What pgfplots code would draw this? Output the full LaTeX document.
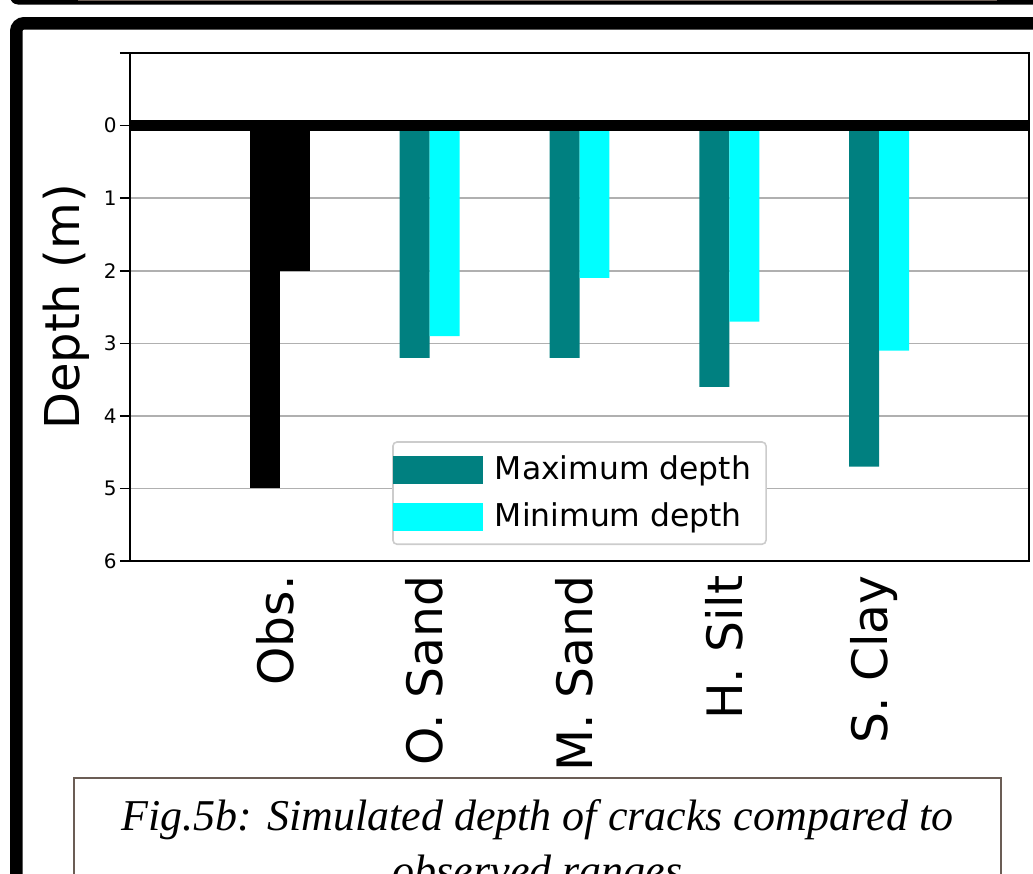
\documentclass[border=0pt]{standalone}
\usepackage{fontspec}
\usepackage{pgfplots}
\pgfplotsset{compat=1.18}
\newfontfamily\dejavu{DejaVu Sans}
\newfontfamily\capserif{Liberation Serif}
\newcommand\capfont{\capserif\itshape\fontsize{22}{26}\selectfont}
\definecolor{mplteal}{HTML}{008080}
\definecolor{mplcyan}{HTML}{00FFFF}
\definecolor{capbrown}{HTML}{6B5D55}
\definecolor{gridgray}{HTML}{B0B0B0}
\definecolor{legframe}{HTML}{CCCCCC}

\begin{document}
\begin{tikzpicture}
\useasboundingbox (0,0) rectangle (516.5pt,-436.5pt);
\clip (0,0) rectangle (516.5pt,-436.5pt);
\begin{scope}[x=0.5pt,y=-0.5pt]
  \fill[black, rounded corners=4pt] (10,-40) rectangle (1100,4.5);
  \draw[capbrown, line width=0.75pt] (78,0.5) -- (997,0.5);
  \draw[black, line width=6.25pt, rounded corners=4pt] (16.25,23.25) rectangle (1100,1000);
  \draw[capbrown, line width=1pt] (74,777.5) rectangle (1001,1000);
  \node[anchor=base, inner sep=0pt] at (537.5,830) {\capfont Fig.5b: Simulated depth of cracks compared to};
  \node[anchor=base, inner sep=0pt] at (537.5,885) {\capfont observed ranges};
\end{scope}

\begin{axis}[
  at={(65pt,-280.5pt)}, anchor=south west,
  width=449.5pt, height=254pt, scale only axis,
  xmin=-1, xmax=5, ymin=-1, ymax=6, y dir=reverse,
  xtick={0,1,2,3,4}, xticklabels={Obs.,O. Sand,M. Sand,H. Silt,S. Clay},
  ytick={-1,0,1,2,3,4,5,6}, yticklabels={,0,1,2,3,4,5,6},
  ytick pos=left,
  xtick style={draw=none},
  ytick style={black, line width=0.8pt},
  tick align=outside, major tick length=5pt,
  ymajorgrids, grid style={color=gridgray, line width=0.8pt},
  axis line style={line width=0.9pt},
  /pgf/number format/assume math mode=true,
  tick label style={font=\dejavu\fontsize{10}{12}\selectfont},
  xticklabel style={font=\dejavu\fontsize{24.4}{29}\selectfont, xshift=-2.5pt, yshift=-2pt, rotate=90, anchor=east, inner sep=0pt},
  yticklabel style={inner sep=0pt, xshift=-1.5pt},
  ylabel={Depth (m)},
  ylabel style={font=\dejavu\fontsize{24}{28}\selectfont, at={(axis description cs:-0.0712,0.5)}, anchor=center, inner sep=0pt},
  legend cell align=left,
  legend image code/.code={\fill[#1, sharp corners] (0pt,-7pt) rectangle (45pt,7pt);},
  legend style={
    at={(0.5,0.0315)}, anchor=south,
    font=\dejavu\fontsize{15.7}{18}\selectfont,
    draw=legframe, line width=0.8pt, rounded corners=2pt, fill=white,
    inner xsep=0pt, inner ysep=6.2pt, row sep=8.5pt, column sep=6pt,
    nodes={inner sep=0pt, text height=12.5pt, text depth=2.6pt},
  },
]
\addplot[ybar, bar width=0.2, bar shift=-0.1, fill=black, draw=none, forget plot] coordinates {(0,5)};
\addplot[ybar, bar width=0.2, bar shift=0.1, fill=black, draw=none, forget plot] coordinates {(0,2)};
\addplot[ybar, bar width=0.2, bar shift=-0.1, fill=mplteal, draw=none] coordinates {(1,3.2) (2,3.2) (3,3.6) (4,4.7)};
\addlegendentry{Maximum depth\hspace*{7.5pt}}
\addplot[ybar, bar width=0.2, bar shift=0.1, fill=mplcyan, draw=none] coordinates {(1,2.9) (2,2.1) (3,2.7) (4,3.1)};
\addlegendentry{Minimum depth\hspace*{7.5pt}}
\addplot[black, line width=5.25pt, forget plot] coordinates {(-1,0) (5,0)};
\end{axis}
\end{tikzpicture}
\end{document}
